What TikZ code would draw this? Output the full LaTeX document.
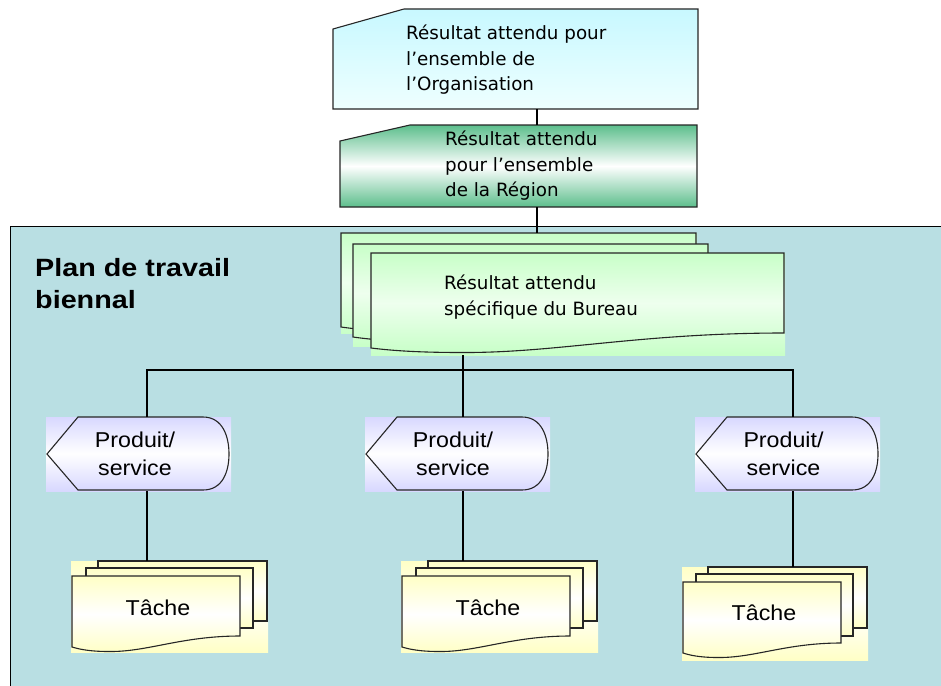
\documentclass[tikz,border=0pt]{standalone}
\usepackage{fontspec}
\setmainfont{Liberation Sans}
\newfontfamily\tahfont{DejaVu Sans}
\newfontfamily\arialX[FakeStretch=1.08]{Liberation Sans}
\newfontfamily\planfont[FakeStretch=1.15]{Liberation Sans}
\usetikzlibrary{shadings}
\definecolor{panelc}{RGB}{185,223,227}
\definecolor{cyanT}{RGB}{200,248,255}
\definecolor{cyanB}{RGB}{238,255,255}
\definecolor{regG}{RGB}{92,190,140}
\definecolor{burG}{RGB}{200,255,200}
\definecolor{burM}{RGB}{238,255,238}
\definecolor{lav}{RGB}{216,216,255}
\definecolor{yel}{RGB}{255,255,198}
% document shape: left, top, right, bottom-left, bottom-right
\newcommand{\docpath}[5]{(#1,#2) -- (#3,#2) -- (#3,#5) .. controls ({#3-0.35*(#3-#1)},#5) and ({#1+0.45*(#3-#1)},{#4+5}) .. ({#1+0.22*(#3-#1)},{#4+4.5}) .. controls ({#1+0.1*(#3-#1)},{#4+4.5}) and ({#1+0.04*(#3-#1)},{#4+2}) .. (#1,#4) -- cycle}
% produit shape: left x of bounding rectangle
\newcommand{\prodpath}[1]{({#1+1},454) -- ({#1+32},417) -- ({#1+157},417) .. controls ({#1+177},417) and ({#1+183},437) .. ({#1+183},454) .. controls ({#1+183},471) and ({#1+177},490) .. ({#1+157},490) -- ({#1+32},490) -- cycle}
\begin{document}
\begin{tikzpicture}[x=1pt,y=-1pt,
  outl/.style={draw=black!85, line width=1.1pt},
  thinlink/.style={draw=black, line width=1.4pt},
  thicklink/.style={draw=black, line width=2.6pt, line join=miter},
  cyanfill/.style={top color=cyanT, bottom color=cyanB},
  regfill/.style={top color=regG, bottom color=regG, middle color=white},
  burfill/.style={top color=burG, bottom color=burG, middle color=burM},
  lavfill/.style={top color=lav, bottom color=lav, middle color=white},
  yelfill/.style={top color=yel, bottom color=yel, middle color=white},
  txtT/.style={font=\tahfont\fontsize{18.3}{25.5}\selectfont, align=left, inner sep=0pt, anchor=west},
  txtA/.style={font=\arialX\fontsize{21.5}{28}\selectfont, align=center, inner sep=0pt},
  frame/.style={draw=none, inner sep=0pt, outer sep=0pt, anchor=north west}
]
\useasboundingbox (0,0) rectangle (941,685);
\clip (0,0) rectangle (941,685);
\fill[white] (0,0) rectangle (941,685);

% panel
\node[frame, fill=panelc, draw=black, line width=1pt, minimum width=960pt, minimum height=480pt] (panel) at (10,226) {};
\node[anchor=west, align=left, inner sep=0pt, font=\planfont\bfseries\fontsize{25}{32}\selectfont] (plan) at (35,284) {Plan de travail\\biennal};

% connector x positions
\coordinate (kA) at (537,0);
\coordinate (kP1) at (147,0);
\coordinate (kP2) at (463,0);
\coordinate (kP3) at (793,0);
\coordinate (kBus) at (0,370);

% Organisation box
\node[frame, minimum width=365pt, minimum height=100pt] (org) at (333,9) {};
\path[cyanfill, outl] (333,29) -- (404,9) -- (698,9) -- (698,109) -- (333,109) -- cycle;
\node[txtT] (orgt) at (406,60) {Résultat attendu pour\\l’ensemble de\\l’Organisation};

% Region box
\node[frame, minimum width=357pt, minimum height=82pt] (reg) at (340,125) {};
\path[regfill, outl] (340,141) -- (410,125) -- (697,125) -- (697,207) -- (340,207) -- cycle;
\node[txtT] (regt) at (445,166) {Résultat attendu\\pour l’ensemble\\de la Région};

\draw[thinlink] (org.south -| kA) -- (reg.north -| kA);

% Bureau stacked documents
\node[frame, minimum width=356pt, minimum height=100pt] (bur1) at (341,233) {};
\fill[burfill] (341,233) rectangle (697,333);
\path[burfill, outl] \docpath{341}{233}{696}{327}{318};
\node[frame, minimum width=356pt, minimum height=102pt] (bur2) at (353,244) {};
\fill[burfill] (353,244) rectangle (709,346);
\path[burfill, outl] \docpath{353}{244}{708}{337}{325};
\node[frame, minimum width=414pt, minimum height=102pt] (bur) at (371,253) {};
\fill[burfill] (371,253) rectangle (785,355);
\path[burfill, outl] \docpath{371}{253}{784}{348}{333};
\node[txtT] (burt) at (444,297) {Résultat attendu\\spécifique du Bureau};

\draw[thinlink] (reg.south -| kA) -- (bur1.north -| kA);

% Produit / service
\foreach \L/\n/\k in {46/p1/kP1, 365/p2/kP2, 695/p3/kP3}{
  \node[frame, minimum width=185pt, minimum height=74pt] (\n) at (\L,417) {};
  \fill[lavfill] (\L,417) rectangle ({\L+185},491);
  \path[lavfill, outl] \prodpath{\L};
}
\node[txtA] (p1t) at (135,454) {Produit/\\service};
\node[txtA] (p2t) at (453,454) {Produit/\\service};
\node[txtA] (p3t) at (783.5,454) {Produit/\\service};

% bus connectors
\draw[thicklink] (p1.north -| kP1) -- (kP1 |- kBus) -- (kP3 |- kBus) -- (p3.north -| kP3);
\draw[thicklink] (bur.south -| kP2) -- (p2.north -| kP2);

% Taches
\node[frame, minimum width=197pt, minimum height=91pt] (t1) at (71,561) {};
\fill[yelfill] (71,561) rectangle (268,652);
\path[yelfill, outl] (98,561) rectangle (267,621);
\path[yelfill, outl] (86,568) rectangle (253,628);
\path[yelfill, outl] \docpath{72}{576}{240}{647}{636};
\node[txtA] (t1t) at (158,608) {Tâche};

\node[frame, minimum width=197pt, minimum height=91pt] (t2) at (401,561) {};
\fill[yelfill] (401,561) rectangle (598,652);
\path[yelfill, outl] (428,561) rectangle (597,621);
\path[yelfill, outl] (416,568) rectangle (583,628);
\path[yelfill, outl] \docpath{402}{576}{570}{647}{636};
\node[txtA] (t2t) at (488,608) {Tâche};

\node[frame, minimum width=186pt, minimum height=93pt] (t3) at (682,567) {};
\fill[yelfill] (682,567) rectangle (868,660);
\path[yelfill, outl] (708,567) rectangle (867,628);
\path[yelfill, outl] (696,574) rectangle (853,636);
\path[yelfill, outl] \docpath{683}{582}{841}{653}{643};
\node[txtA] (t3t) at (764,613) {Tâche};

\draw[thicklink] (p1.south -| kP1) -- (t1.north -| kP1);
\draw[thicklink] (p2.south -| kP2) -- (t2.north -| kP2);
\draw[thicklink] (p3.south -| kP3) -- (t3.north -| kP3);
\end{tikzpicture}
\end{document}
